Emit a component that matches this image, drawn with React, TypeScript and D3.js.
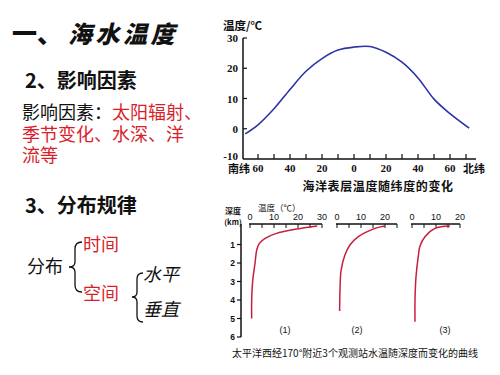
import React from 'react';
import * as d3 from 'd3';

// Top chart: sea surface temperature vs latitude (south negative)
const latitudes = [-68, -60, -50, -40, -30, -20, -10, 0, 10, 20, 30, 40, 50, 60, 72];
const sstValues = [-1.7, 1.3, 6.6, 13, 19, 23.2, 26, 27, 27.2, 25.3, 22, 16.8, 9.8, 5, 0.2];
const tempTicks = [30, 20, 10, 0, -10];
const latLabelTicks = [-60, -40, -20, 0, 20, 40, 60];
const latLabels = ['60', '40', '20', '0', '20', '40', '60'];
const latMinorTicks = [-60, -50, -40, -30, -20, -10, 0, 10, 20, 30, 40, 50, 60, 70];

// Bottom chart: temperature vs depth at 3 stations
const depthTicks = [1, 2, 3, 4, 5, 6];
const station1Depth = [0, 0.18, 0.4, 0.67, 0.94, 1.3, 2, 3, 4, 5];
const station1Temp = [28, 18.8, 11, 6.3, 3.9, 2.8, 2.1, 1.1, 0.7, 0.7];
const station2Depth = [0, 0.13, 0.58, 1.03, 1.57, 2.4, 3.46, 4.6];
const station2Temp = [20, 15.8, 8.9, 5.4, 3.3, 1.7, 1.25, 1.1];
const station3Depth = [0, 0.13, 0.58, 1.1, 1.66, 2.74, 4, 5.17];
const station3Temp = [15.8, 9.6, 5.4, 3.3, 2.6, 1.67, 1.25, 1.25];
const station1AxisMax = 30;
const station2AxisMax = 25;
const station3AxisMax = 20;
const station1Labels = [0, 10, 20, 30];
const station2Labels = [0, 10, 20];
const station3Labels = [0, 10, 20];
const stationNames = ['(1)', '(2)', '(3)'];

const CJK = '"Noto Sans CJK SC", "Noto Sans", sans-serif';
const SERIF = '"Liberation Serif", "DejaVu Serif", serif';
const SANS = '"Liberation Sans", Arial, sans-serif';
const RED = '#d81e2a';

export default function App() {
  // top chart scales
  const x = d3.scaleLinear().domain([-60, 60]).range([258, 450]);
  const y = d3.scaleLinear().domain([-10, 30]).range([159, 38]);
  const yAxisX = 243;
  const sstLine = d3
    .line<number>()
    .x((_, i) => x(latitudes[i]))
    .y((d) => y(d))
    .curve(d3.curveCatmullRom.alpha(0.5));

  // bottom chart scales
  const dy = d3.scaleLinear().domain([0, 6]).range([226, 337]);
  const axisY = 224;
  const stations = [
    { x0: 250, max: station1AxisMax, labels: station1Labels, depth: station1Depth, temp: station1Temp, nameX: 285 },
    { x0: 337, max: station2AxisMax, labels: station2Labels, depth: station2Depth, temp: station2Temp, nameX: 357 },
    { x0: 412, max: station3AxisMax, labels: station3Labels, depth: station3Depth, temp: station3Temp, nameX: 445 },
  ];

  return (
    <svg width={500} height={375} style={{ position: 'absolute', left: 0, top: 0, background: '#fff' }}>
      <rect width={500} height={375} fill="#fff" />

      {/* Left text block */}
      <text x={12} y={43} fontFamily={CJK} fontSize={25} fontWeight={900} fill="#111">一、</text>
      <text x={68} y={43} fontFamily={CJK} fontSize={24} fontWeight={900} letterSpacing={3.5} fill="#111" fontStyle="italic">海水温度</text>

      <text x={25} y={88} fontFamily={CJK} fontSize={20} fontWeight={700} fill="#111">2、影响因素</text>
      <text x={22} y={118.5} fontFamily={CJK} fontSize={18} fill="#111">
        影响因素：<tspan fill={RED}>太阳辐射、</tspan>
      </text>
      <text x={22} y={140.5} fontFamily={CJK} fontSize={18} fill={RED}>季节变化、水深、洋</text>
      <text x={22} y={162} fontFamily={CJK} fontSize={18} fill={RED}>流等</text>

      <text x={25} y={213} fontFamily={CJK} fontSize={20} fontWeight={700} fill="#111">3、分布规律</text>
      <text x={83} y={251} fontFamily={CJK} fontSize={18} fill={RED}>时间</text>
      <text x={27} y={273} fontFamily={CJK} fontSize={18} fill="#111">分布</text>
      <text x={83} y={300} fontFamily={CJK} fontSize={18} fill={RED}>空间</text>
      <text x={143} y={281} fontFamily={CJK} fontSize={18} fontStyle="italic" fill="#111">水平</text>
      <text x={143} y={316} fontFamily={CJK} fontSize={18} fontStyle="italic" fill="#111">垂直</text>
      {/* braces */}
      <path d="M82,242 Q75,242 75,249 L75,262 Q75,267 69,267 Q75,267 75,272 L75,285 Q75,292 82,292" fill="none" stroke="#111" strokeWidth={1.3} />
      <path d="M143,273 Q137,273 137,279 L137,292 Q137,297 132,297 Q137,297 137,302 L137,316 Q137,322 143,322" fill="none" stroke="#111" strokeWidth={1.3} />

      {/* Top chart */}
      <text x={223} y={30} fontFamily={CJK} fontSize={11.5} fontWeight={700} fill="#111">温度/℃</text>
      <line x1={yAxisX} x2={yAxisX} y1={y(30)} y2={y(-10)} stroke="#111" strokeWidth={1.5} />
      <line x1={yAxisX} x2={476} y1={y(-10)} y2={y(-10)} stroke="#111" strokeWidth={1.5} />
      {tempTicks.map((t) => (
        <g key={t}>
          {t > -10 && <line x1={yAxisX} x2={yAxisX + 4} y1={y(t)} y2={y(t)} stroke="#111" strokeWidth={1.2} />}
          <text x={238} y={t === -10 ? y(t) + 1 : y(t) + 4} textAnchor="end" fontFamily={SERIF} fontWeight={700} fontSize={11} fill="#111">{t}</text>
        </g>
      ))}
      {latMinorTicks.map((t) => (
        <line key={t} x1={x(t)} x2={x(t)} y1={y(-10)} y2={y(-10) - 5} stroke="#111" strokeWidth={1.2} />
      ))}
      {latLabelTicks.map((t, i) => (
        <text key={t} x={x(t)} y={172} textAnchor="middle" fontFamily={SERIF} fontWeight={700} fontSize={11} fill="#111">{latLabels[i]}</text>
      ))}
      <text x={239} y={173} textAnchor="middle" fontFamily={CJK} fontWeight={700} fontSize={11} fill="#111">南纬</text>
      <text x={474} y={173} textAnchor="middle" fontFamily={CJK} fontWeight={700} fontSize={11} fill="#111">北纬</text>
      <path d={sstLine(sstValues) || ''} fill="none" stroke="#2c34a6" strokeWidth={1.6} />
      <text x={378} y={191} textAnchor="middle" fontFamily={CJK} fontWeight={700} fontSize={12} letterSpacing={0.6} fill="#111">海洋表层温度随纬度的变化</text>

      {/* Bottom chart */}
      <text x={233} y={214} textAnchor="middle" fontFamily={CJK} fontSize={8} fontWeight={700} fill="#111">深度</text>
      <text x={233} y={224.5} textAnchor="middle" fontFamily={CJK} fontSize={7.5} fontWeight={700} fill="#111">(km)</text>
      <text x={258} y={210.5} fontFamily={CJK} fontSize={8.5} fill="#111">温度（℃）</text>
      <line x1={241} x2={241} y1={axisY} y2={dy(6)} stroke="#111" strokeWidth={1.5} />
      {depthTicks.map((d) => (
        <g key={d}>
          <line x1={237} x2={241} y1={dy(d)} y2={dy(d)} stroke="#111" strokeWidth={1.2} />
          <text x={235} y={dy(d) + 3} textAnchor="end" fontFamily={SANS} fontWeight={700} fontSize={8.5} fill="#111">{d}</text>
        </g>
      ))}
      {stations.map((s, si) => {
        const tx = d3.scaleLinear().domain([0, 10]).range([s.x0, s.x0 + 24]);
        const ticks = d3.range(0, s.max + 0.1, 5);
        const line = d3
          .line<number>()
          .x((t) => tx(t))
          .y((_, i) => dy(s.depth[i]))
          .curve(d3.curveCatmullRom.alpha(0.5));
        return (
          <g key={si}>
            <line x1={tx(0) - 1} x2={tx(s.max)} y1={axisY} y2={axisY} stroke="#111" strokeWidth={1.3} />
            {ticks.map((t) => (
              <line key={t} x1={tx(t)} x2={tx(t)} y1={axisY} y2={axisY + 4} stroke="#111" strokeWidth={1} />
            ))}
            {s.labels.map((t) => (
              <text key={t} x={tx(t)} y={220} textAnchor="middle" fontFamily={SANS} fontSize={9} fill="#111">{t}</text>
            ))}
            <path d={line(s.temp) || ''} fill="none" stroke="#c8203c" strokeWidth={1.5} />
            <text x={s.nameX} y={333} textAnchor="middle" fontFamily={SANS} fontSize={9} fill="#111">{stationNames[si]}</text>
          </g>
        );
      })}
      <text x={232} y={357} fontFamily={CJK} fontSize={10} fill="#111">太平洋西经170°附近3个观测站水温随深度而变化的曲线</text>
    </svg>
  );
}
